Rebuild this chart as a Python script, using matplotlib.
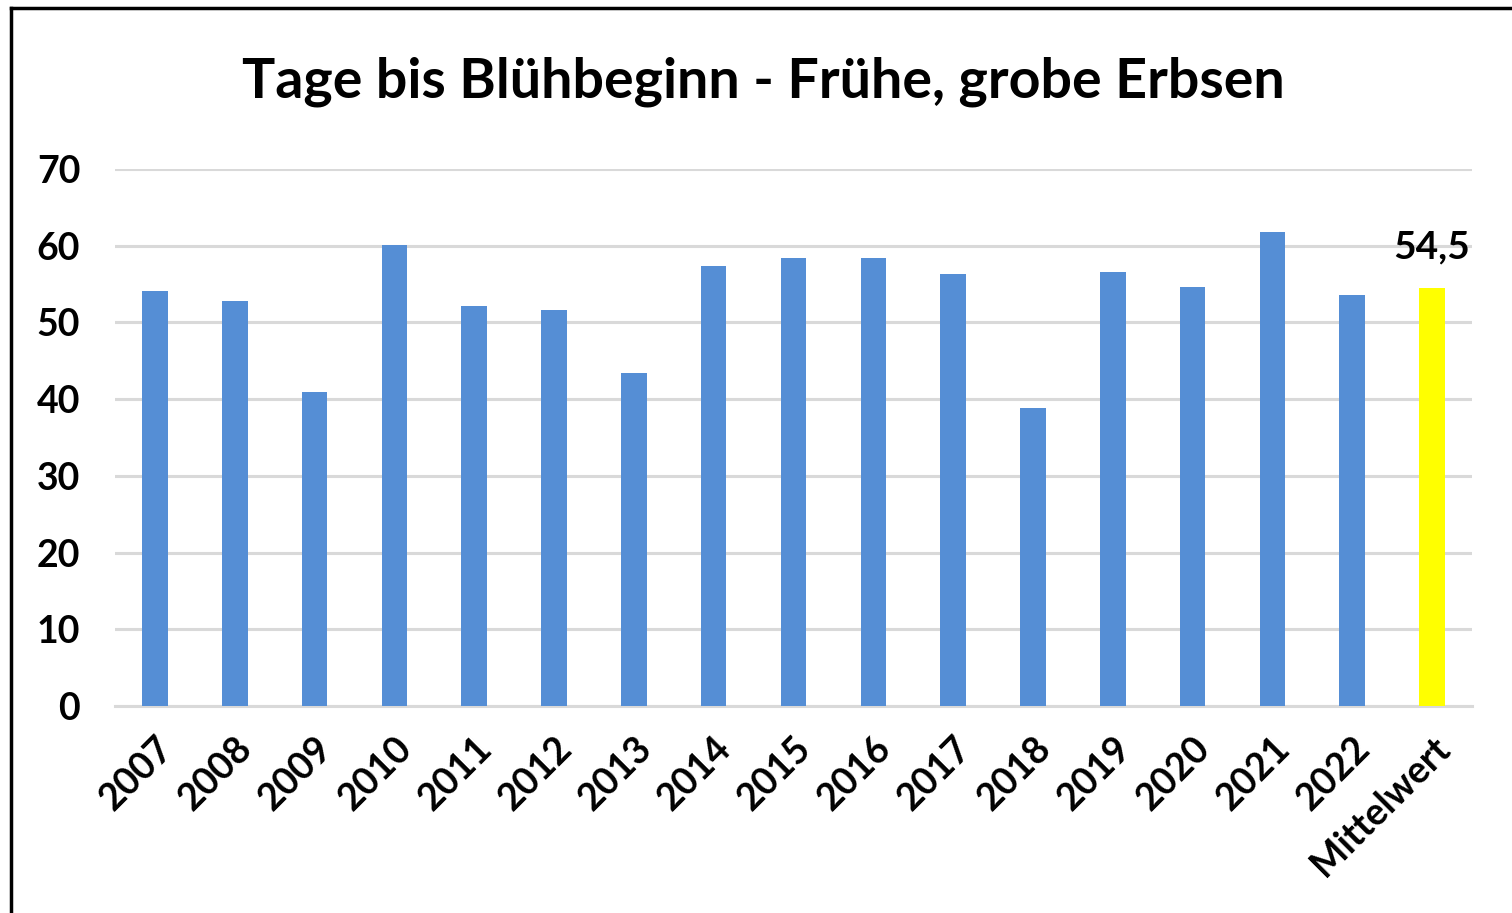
import matplotlib.pyplot as plt
from matplotlib.lines import Line2D

# Daten
kategorien = ['2007', '2008', '2009', '2010', '2011', '2012', '2013', '2014',
              '2015', '2016', '2017', '2018', '2019', '2020', '2021', '2022',
              'Mittelwert']
tage = [54.1, 52.8, 40.9, 60.1, 52.2, 51.6, 43.4, 57.4,
        58.4, 58.4, 56.3, 38.9, 56.6, 54.6, 61.8, 53.6, 54.5]
mittel_label = '54,5'

blau = '#558ed5'
gelb = '#ffff00'
grid_grau = '#d9d9d9'

plt.rcParams['font.family'] = ['Lato', 'DejaVu Sans']

fig = plt.figure(figsize=(15.12, 9.13), dpi=100)
ax = fig.add_axes([0.0761, 0.2267, 0.8974, 0.5882])

farben = [blau] * (len(kategorien) - 1) + [gelb]
x = range(len(kategorien))
ax.bar(x, tage, width=0.32, color=farben, zorder=3)

ax.set_xlim(-0.5, len(kategorien) - 0.5)
ax.set_ylim(0, 70)
ax.set_yticks(range(0, 71, 10))
ax.yaxis.grid(True, color=grid_grau, linewidth=2.2, zorder=0)
ax.set_axisbelow(True)
for s in ['top', 'right', 'left']:
    ax.spines[s].set_visible(False)
ax.spines['bottom'].set_color(grid_grau)
ax.spines['bottom'].set_linewidth(2.2)
ax.tick_params(length=0)
ax.tick_params(axis='y', labelsize=27, pad=25)
for lbl in ax.get_yticklabels():
    lbl.set_fontweight('bold')

ax.set_xticks(list(x))
ax.set_xticklabels(kategorien, rotation=45, ha='right', rotation_mode='anchor',
                   fontsize=27, fontweight='bold')
ax.tick_params(axis='x', pad=18)

# Wertbeschriftung Mittelwert
ax.text(len(kategorien) - 1, tage[-1] + 3.9, mittel_label, ha='center', va='baseline',
        fontsize=28, fontweight='bold')

fig.text(0.505, 0.91, 'Tage bis Blühbeginn - Frühe, grobe Erbsen', ha='center',
         va='center', fontsize=40, fontweight='bold')

# Rahmen
fig.add_artist(Line2D([0.0073, 1.0], [1 - 8 / 913, 1 - 8 / 913], color='black',
                      linewidth=2.5, transform=fig.transFigure))
fig.add_artist(Line2D([0.0073, 0.0073], [0.0, 1 - 8 / 913], color='black',
                      linewidth=2.5, transform=fig.transFigure))

fig.savefig('out.png', dpi=100, facecolor='white')
